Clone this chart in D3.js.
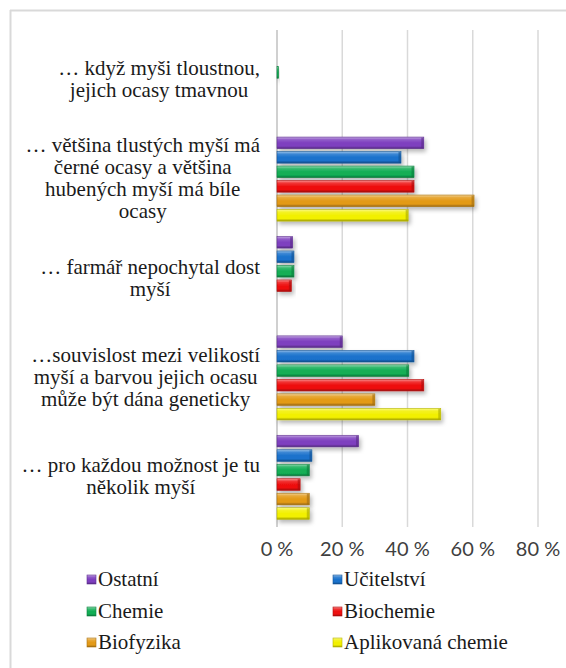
<!DOCTYPE html>
<html>
<head>
<meta charset="utf-8">
<script src="https://cdn.jsdelivr.net/npm/d3@7"></script>
<style>
  text.serif-label { font-family: "Liberation Serif", Tinos, "Times New Roman" !important; }
</style>
</head>
<body style="margin:0">
<svg id="chart" width="566" height="668"></svg>
<script>
// kategorie (řádky oddělené \n)
var categories = [
  "… když myši tloustnou,\njejich ocasy tmavnou",
  "… většina tlustých myší má\nčerné ocasy a většina\nhubených myší má bíle\nocasy",
  "… farmář nepochytal dost\nmyší",
  "…souvislost mezi velikostí\nmyší a barvou jejich ocasu\nmůže být dána geneticky",
  "… pro každou možnost je tu\nněkolik myší"
];
var seriesNames = ["Ostatní", "Učitelství", "Chemie", "Biochemie", "Biofyzika", "Aplikovaná chemie"];
var seriesColors = ["#7E3FBF", "#1A72CC", "#12AE55", "#EE1111", "#E39A17", "#F2F000"];

// hodnoty v % po kategoriích
var ostatni     = [0,   45, 4.8, 20, 25];
var ucitelstvi  = [0,   38, 5.2, 42, 10.7];
var chemie      = [0.5, 42, 5.2, 40.4, 9.9];
var biochemie   = [0,   42, 4.4, 45, 7.1];
var biofyzika   = [0,   60.4, 0, 30, 9.9];
var aplikovana  = [0,   40.2, 0, 50.2, 9.9];
var values = [ostatni, ucitelstvi, chemie, biochemie, biofyzika, aplikovana];

var xTicks = [0, 20, 40, 60, 80];

var svg = d3.select("#chart");
var plot = {left: 277, right: 538, top: 30, bottom: 527};

var x = d3.scaleLinear().domain([0, 80]).range([plot.left, plot.right]);
var y = d3.scaleBand().domain(d3.range(categories.length)).range([plot.top, plot.bottom]);
var yInner = d3.scaleBand().domain(d3.range(seriesNames.length))
  .range([0, y.bandwidth()]).paddingInner(0.2).paddingOuter(0.53);

// defs: přechody a stín
var defs = svg.append("defs");
seriesColors.forEach(function(c, i) {
  var base = d3.color(c);
  var g = defs.append("linearGradient").attr("id", "grad" + i)
    .attr("x1", 0).attr("y1", 0).attr("x2", 0).attr("y2", 1);
  g.append("stop").attr("offset", "0%").attr("stop-color", d3.interpolateRgb(c, "#fff")(0.55));
  g.append("stop").attr("offset", "22%").attr("stop-color", d3.interpolateRgb(c, "#fff")(0.15));
  g.append("stop").attr("offset", "50%").attr("stop-color", c);
  g.append("stop").attr("offset", "78%").attr("stop-color", c);
  g.append("stop").attr("offset", "100%").attr("stop-color", base.darker(1.2));
});
var f = defs.append("filter").attr("id", "shadow")
  .attr("x", "-20%").attr("y", "-40%").attr("width", "150%").attr("height", "200%");
f.append("feDropShadow").attr("dx", 2).attr("dy", 3).attr("stdDeviation", 2)
  .attr("flood-color", "#000").attr("flood-opacity", 0.28);

// rámeček
svg.append("line").attr("x1", 10).attr("x2", 566).attr("y1", 10.5).attr("y2", 10.5)
  .attr("stroke", "#d9d9d9").attr("stroke-width", 2);
svg.append("line").attr("x1", 10.5).attr("x2", 10.5).attr("y1", 10).attr("y2", 668)
  .attr("stroke", "#d9d9d9").attr("stroke-width", 2);

// mřížka
svg.append("g").selectAll("line").data(xTicks.slice(1)).join("line")
  .attr("x1", function(d) { return x(d); }).attr("x2", function(d) { return x(d); })
  .attr("y1", plot.top).attr("y2", plot.bottom)
  .attr("stroke", "#d9d9d9").attr("stroke-width", 1.5);

// popisky osy x
svg.append("g").selectAll("text").data(xTicks).join("text")
  .attr("x", function(d) { return x(d); }).attr("y", 556)
  .attr("text-anchor", "middle")
  .style("font-family", "'Lato'").attr("font-size", 20).attr("fill", "#404040")
  .text(function(d) { return d + " %"; });

// osa y
svg.append("line").attr("x1", x(0)).attr("x2", x(0)).attr("y1", plot.top).attr("y2", plot.bottom)
  .attr("stroke", "#d0d0d0").attr("stroke-width", 2);

// sloupce
var groups = svg.append("g").selectAll("g").data(categories).join("g")
  .attr("transform", function(d, i) { return "translate(0," + y(i) + ")"; });

groups.each(function(cat, ci) {
  var g = d3.select(this);
  seriesNames.forEach(function(s, si) {
    var v = values[si][ci];
    if (!v) return;
    var w = x(v) - x(0);
    var yy = yInner(si), h = yInner.bandwidth();
    var bar = g.append("g").attr("filter", "url(#shadow)");
    bar.append("rect").attr("x", x(0)).attr("y", yy).attr("width", w).attr("height", h)
      .attr("fill", "url(#grad" + si + ")")
      .attr("stroke", d3.color(seriesColors[si]).darker(0.8)).attr("stroke-width", 0.6);
    if (w > 4) {
      bar.append("rect").attr("x", x(v) - 2.5).attr("y", yy + 0.5).attr("width", 2.2).attr("height", h - 1)
        .attr("fill", d3.color(seriesColors[si]).darker(1)).attr("opacity", 0.6);
    }
  });
});

// popisky kategorií
var labelRight = 260, lineH = 22;
var labelSets = categories.map(function(cat, ci) {
  var lines = cat.split("\n");
  var cy = y(ci) + y.bandwidth() / 2 + 6;
  return lines.map(function(l, li) {
    return svg.append("text").attr("class", "serif-label")
      .attr("y", cy + (li - (lines.length - 1) / 2) * lineH)
      .style("font-family", "'Liberation Serif'").attr("font-size", 21)
      .attr("fill", "#1a1a1a").attr("text-anchor", "middle").text(l);
  });
});
function placeLabels() {
  labelSets.forEach(function(texts) {
    var maxW = d3.max(texts, function(t) { return t.node().getComputedTextLength(); });
    texts.forEach(function(t) { t.attr("x", labelRight - maxW / 2); });
  });
}
placeLabels();
if (document.fonts && document.fonts.ready) document.fonts.ready.then(placeLabels);

// legenda
var legendCols = [87, 333], legendRows = [580, 612, 643];
var legend = svg.append("g").selectAll("g").data(seriesNames).join("g")
  .attr("transform", function(d, i) {
    return "translate(" + legendCols[i % 2] + "," + legendRows[Math.floor(i / 2)] + ")";
  });
legend.append("rect").attr("x", 0).attr("y", -5).attr("width", 9).attr("height", 9)
  .attr("fill", function(d, i) { return "url(#grad" + i + ")"; })
  .attr("stroke", function(d, i) { return d3.color(seriesColors[i]).darker(0.8); })
  .attr("stroke-width", 0.6);
legend.append("text").attr("class", "serif-label").attr("x", 11).attr("y", 6)
  .style("font-family", "'Liberation Serif'").attr("font-size", 21)
  .attr("fill", "#1a1a1a").text(function(d) { return d; });
</script>
</body>
</html>
